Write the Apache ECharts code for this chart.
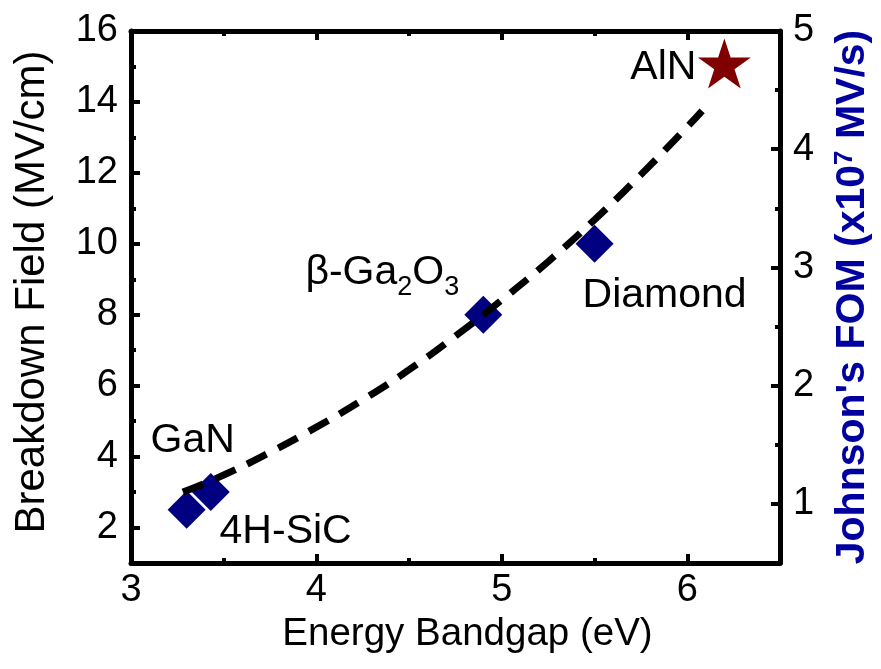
<!DOCTYPE html>
<html>
<head>
<meta charset="utf-8">
<script src="https://cdn.jsdelivr.net/npm/echarts@6/dist/echarts.min.js"></script>
<style>
  html, body { margin: 0; padding: 0; background: #fff; }
  #chart { width: 881px; height: 669px; }
</style>
</head>
<body>
<div id="chart"></div>
<script>
// Wide-bandgap semiconductors: breakdown field versus bandgap
const materials = ['4H-SiC', 'GaN', 'β-Ga2O3', 'Diamond'];
const bandgap = [3.3, 3.43, 4.9, 5.5];          // eV
const breakdown = [2.5, 3.0, 8.0, 10.0];        // MV/cm

const alnName = 'AlN';
const alnBandgap = [6.2];
const alnBreakdown = [15];

// dashed trend curve
const trendBandgap = [3.28, 3.5, 3.75, 4.0, 4.25, 4.5, 4.75, 5.0, 5.25, 5.5, 5.75, 6.0, 6.08];
const trendField   = [3.0, 3.48, 4.12, 4.83, 5.6, 6.45, 7.4, 8.42, 9.5, 10.68, 11.95, 13.3, 13.75];

// axis ticks
const bandgapTicks = [3, 4, 5, 6];
const bandgapMinor = [3.5, 4.5, 5.5];
const bandgapTopTicks = [4, 5, 6];
const fieldTicks = [2, 4, 6, 8, 10, 12, 14, 16];
const fieldMinor = [3, 5, 7, 9, 11, 13, 15];
const fomTicks = [1, 2, 3, 4, 5];
const fomMinor = [1.5, 2.5, 3.5, 4.5];

const FONT = '"Liberation Sans", Arial, sans-serif';
const INK = '#000';

// label placement around each marker (pixel offsets from the point)
const labelOffsets = {
  '4H-SiC': [99, 22],
  'GaN': [-18, -51],
  'β-Ga2O3': [-101, -42],
  'Diamond': [70, 52],
  'AlN': [-61, 4]
};
const labelText = {
  '4H-SiC': '4H-SiC',
  'GaN': 'GaN',
  'β-Ga2O3': '{t|β-Ga}{s|2}{t|O}{s|3}',
  'Diamond': 'Diamond',
  'AlN': 'AlN'
};

const labelRich = {
  t: { fontSize: 41, fontFamily: FONT, color: INK, lineHeight: 41, verticalAlign: 'top' },
  s: { fontSize: 27, fontFamily: FONT, color: INK, lineHeight: 27, verticalAlign: 'top', padding: [22, 0, 0, 0] }
};

function pointLabel(name) {
  return {
    show: true,
    position: 'inside',
    offset: labelOffsets[name],
    formatter: labelText[name],
    fontSize: 41,
    fontFamily: FONT,
    color: INK,
    opacity: 1,
    textBorderWidth: 0,
    rich: labelRich
  };
}

const diamondData = materials.map((m, i) => ({
  name: m,
  value: [bandgap[i], breakdown[i]],
  label: pointLabel(m)
}));
const alnData = alnBandgap.map((x, i) => ({
  name: alnName,
  value: [x, alnBreakdown[i]],
  label: pointLabel(alnName)
}));
const trendData = trendBandgap.map((x, i) => [x, trendField[i]]);

const STAR = 'path://M50,0L61.23,34.55L97.55,34.55L68.17,55.9L79.39,90.45L50,69.1L20.61,90.45L31.83,55.9L2.45,34.55L38.77,34.55Z';

function tickAxis(base, values, len, showLine) {
  return Object.assign({
    type: 'value',
    axisLine: { show: showLine, onZero: false, lineStyle: { color: INK, width: 5 } },
    axisTick: { show: true, inside: true, length: len, customValues: values, lineStyle: { color: INK, width: 4 } },
    axisLabel: { show: false },
    splitLine: { show: false }
  }, base);
}

const chart = echarts.init(document.getElementById('chart'), null, { renderer: 'canvas' });
chart.setOption({
  animation: false,
  backgroundColor: '#fff',
  grid: { left: 131, right: 98, top: 31, bottom: 106, containLabel: false },
  xAxis: [
    Object.assign(tickAxis({ position: 'bottom', min: 3, max: 6.5 }, bandgapTicks, 9, true), {
      axisLabel: { show: true, customValues: bandgapTicks, fontSize: 38, fontFamily: FONT, color: INK, margin: 9 },
      name: 'Energy Bandgap (eV)',
      nameLocation: 'middle',
      nameGap: 52,
      nameTextStyle: { fontSize: 38.5, fontFamily: FONT, color: INK, padding: [0, 0, 0, 24] }
    }),
    tickAxis({ position: 'bottom', min: 3, max: 6.5 }, bandgapMinor, 5, false),
    tickAxis({ position: 'top', min: 3, max: 6.5 }, bandgapTopTicks, 9, true),
    tickAxis({ position: 'top', min: 3, max: 6.5 }, bandgapMinor, 5, false)
  ],
  yAxis: [
    Object.assign(tickAxis({ position: 'left', min: 1, max: 16 }, fieldTicks, 9, true), {
      axisLabel: { show: true, customValues: fieldTicks, fontSize: 38, fontFamily: FONT, color: INK, margin: 13 },
      name: 'Breakdown Field (MV/cm)',
      nameLocation: 'middle',
      nameGap: 78,
      nameTextStyle: { fontSize: 42, fontFamily: FONT, color: INK, padding: [0, 0, 0, 10] }
    }),
    tickAxis({ position: 'left', min: 1, max: 16 }, fieldMinor, 5, false),
    Object.assign(tickAxis({ position: 'right', min: 0.5, max: 5 }, fomTicks, 9, true), {
      axisLabel: { show: true, customValues: fomTicks, fontSize: 38, fontFamily: FONT, color: INK, margin: 13 },
      name: "Johnson's FOM (x10{sup|7} MV/s)",
      nameLocation: 'middle',
      nameGap: 52,
      nameTextStyle: {
        fontSize: 41, fontFamily: FONT, fontWeight: 'bold', color: '#0000a0',
        rich: {
          sup: { fontSize: 26, fontFamily: FONT, fontWeight: 'bold', color: '#0000a0', verticalAlign: 'top', lineHeight: 26 }
        }
      }
    }),
    tickAxis({ position: 'right', min: 0.5, max: 5 }, fomMinor, 5, false)
  ],
  series: [
    {
      type: 'scatter',
      name: 'materials',
      xAxisIndex: 0, yAxisIndex: 0,
      symbol: 'diamond',
      symbolSize: 38,
      itemStyle: { color: '#000080', opacity: 1 },
      emphasis: { disabled: true },
      data: diamondData,
      z: 2
    },
    {
      type: 'scatter',
      name: alnName,
      xAxisIndex: 0, yAxisIndex: 0,
      symbol: STAR,
      symbolSize: [53, 50],
      symbolOffset: [0, -3],
      itemStyle: { color: '#800000', opacity: 1 },
      emphasis: { disabled: true },
      data: alnData,
      z: 2
    },
    {
      type: 'line',
      name: 'trend',
      xAxisIndex: 0, yAxisIndex: 0,
      smooth: true,
      showSymbol: false,
      symbol: 'none',
      lineStyle: { color: INK, width: 7, type: [22, 13], cap: 'butt' },
      emphasis: { disabled: true },
      data: trendData,
      z: 3
    }
  ]
});
</script>
</body>
</html>
